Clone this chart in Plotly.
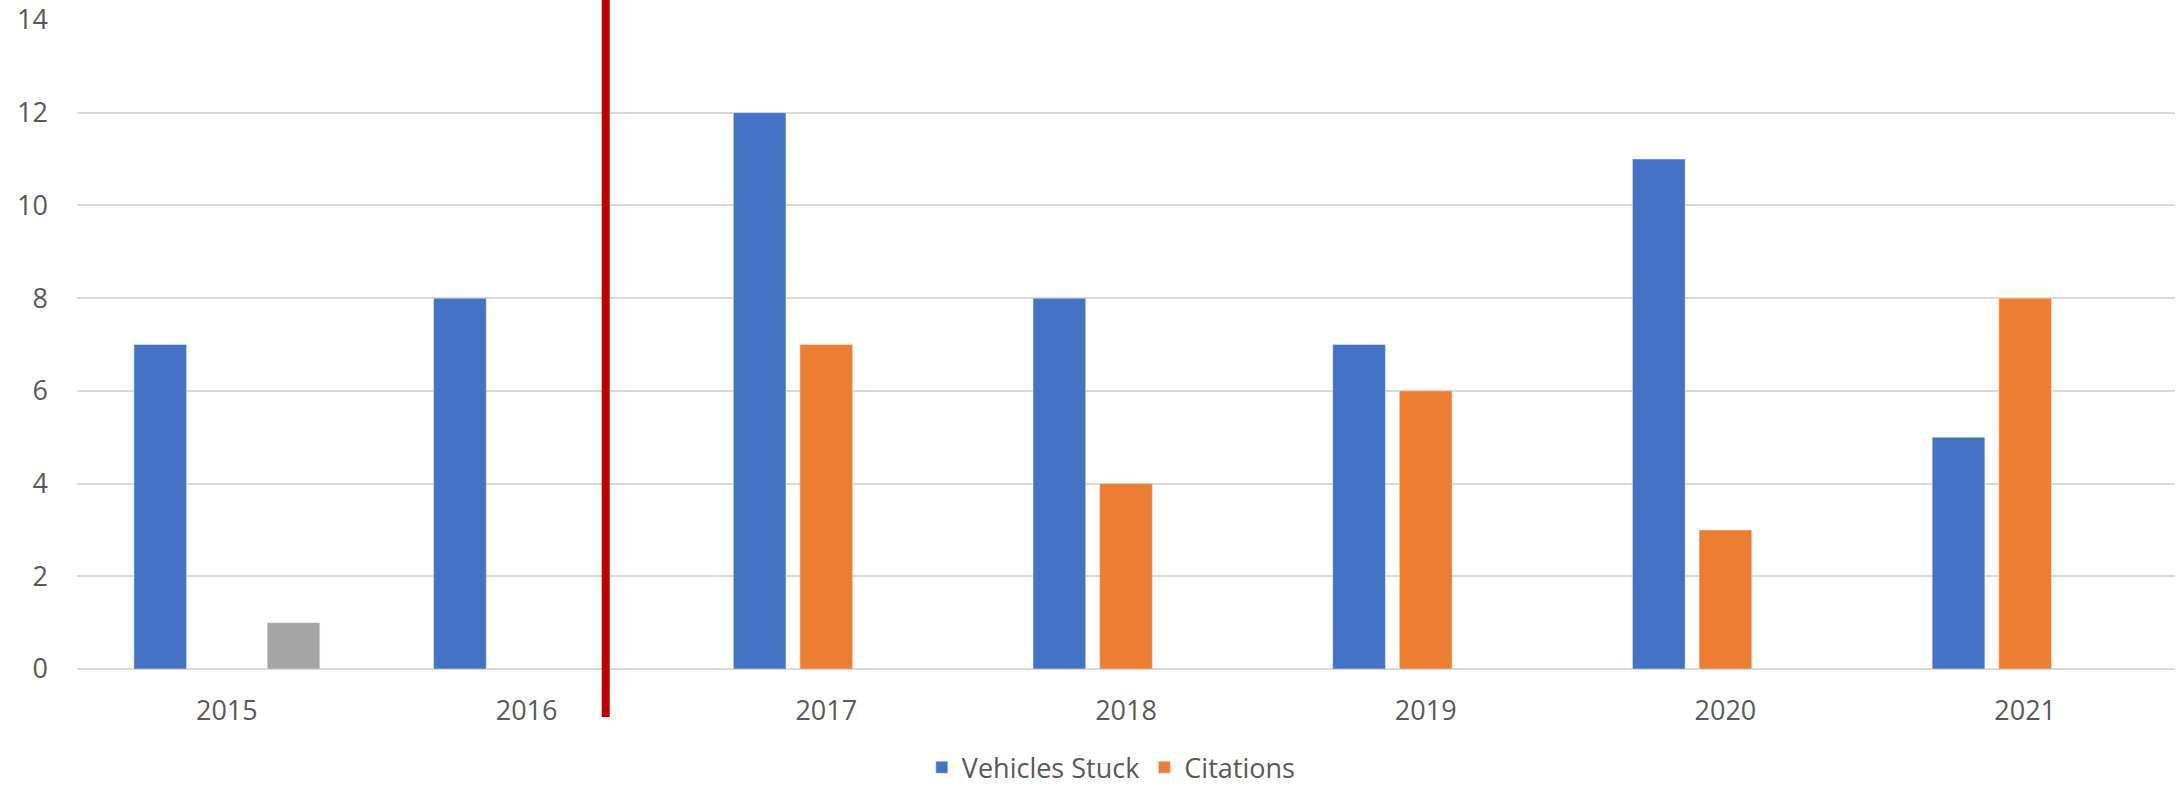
import plotly.graph_objects as go

years = ["2015", "2016", "2017", "2018", "2019", "2020", "2021"]
vehicles_stuck = [7, 8, 12, 8, 7, 11, 5]
citations = [None, None, 7, 4, 6, 3, 8]
other = [1, None, None, None, None, None, None]

# position of the red divider, in category units (2015 = 0)
divider_x = 1.264

FONT = "Open Sans"
TEXT_GREY = "#595959"
GRID = "#D9D9D9"

fig = go.Figure()
fig.add_trace(go.Bar(x=years, y=vehicles_stuck, name="Vehicles Stuck",
                     marker_color="#4472C4"))
fig.add_trace(go.Bar(x=years, y=citations, name="Citations",
                     marker_color="#ED7D31"))
fig.add_trace(go.Bar(x=years, y=other, name="", showlegend=False,
                     marker_color="#A5A5A5"))

fig.add_shape(type="line", xref="x", yref="paper",
              x0=divider_x, x1=divider_x, y0=-0.074, y1=1.04,
              line={"color": "#C00000", "width": 8}, layer="above")

fig.update_layout(
    width=2178, height=789,
    margin={"l": 77, "r": 3, "t": 20, "b": 120, "autoexpand": False},
    paper_bgcolor="white", plot_bgcolor="white",
    barmode="group", bargap=0.333, bargroupgap=0.21,
    font={"family": FONT, "size": 27, "color": TEXT_GREY},
    showlegend=True,
    legend={"orientation": "h", "x": 0.493, "xanchor": "center",
            "y": -0.152, "yanchor": "middle",
            "font": {"size": 27, "color": TEXT_GREY},
            "itemwidth": 30, "traceorder": "normal"},
    hovermode=False,
)
fig.update_xaxes(type="category", showgrid=False, showline=False,
                 ticks="", ticklabelstandoff=23, automargin=False,
                 tickfont={"size": 27, "color": TEXT_GREY})
fig.update_yaxes(range=[0, 14], dtick=2, showgrid=True, gridcolor=GRID,
                 gridwidth=2, zeroline=True, zerolinecolor=GRID,
                 zerolinewidth=2, ticks="", ticklabelstandoff=28,
                 automargin=False,
                 tickfont={"size": 27, "color": TEXT_GREY})

# drop the browser's default body margin so the figure sits at the page corner
fig.write_html("out.html",
               config={"displayModeBar": False},
               post_script="document.body.style.margin='0';"
                           "document.body.style.overflow='hidden';")
